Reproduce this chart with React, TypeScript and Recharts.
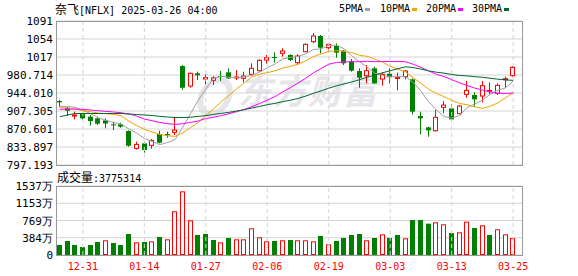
import React from "react";
import {
  ComposedChart,
  Bar,
  Line,
  XAxis,
  YAxis,
  CartesianGrid,
  ReferenceLine,
} from "recharts";

const dates = [
  "12-26", "12-27", "12-30", "12-31", "01-02", "01-03", "01-06", "01-07", "01-08", "01-10",
  "01-13", "01-14", "01-15", "01-16", "01-17", "01-21", "01-22", "01-23", "01-24", "01-27",
  "01-28", "01-29", "01-30", "01-31", "02-03", "02-04", "02-05", "02-06", "02-07", "02-10",
  "02-11", "02-12", "02-13", "02-14", "02-18", "02-19", "02-20", "02-21", "02-24", "02-25",
  "02-26", "02-27", "02-28", "03-03", "03-04", "03-05", "03-06", "03-07", "03-10", "03-11",
  "03-12", "03-13", "03-14", "03-17", "03-18", "03-19", "03-20", "03-21", "03-24", "03-25",
];

const openP = [
  927.6, 914.0, 897.0, 903.2, 895.7, 892.3, 888.2, 880.0, 880.0, 866.4,
  831.1, 841.3, 837.2, 860.3, 860.3, 863.7, 999.0, 958.2, 984.1, 972.5,
  969.8, 978.6, 986.1, 975.2, 973.9, 982.0, 989.5, 1011.3, 1017.4, 1024.9,
  1021.5, 1005.8, 1028.3, 1048.7, 1060.2, 1036.4, 1039.8, 1030.3, 1007.9, 988.8,
  979.3, 994.3, 972.5, 983.4, 974.5, 977.3, 971.8, 897.0, 873.9, 867.1,
  914.7, 912.7, 901.8, 941.2, 939.9, 937.8, 947.4, 943.3, 971.8, 979.3,
];

const highP = [
  929.7, 915.4, 905.9, 903.9, 899.1, 895.7, 892.3, 885.5, 883.4, 867.8,
  844.7, 844.7, 850.1, 867.1, 865.1, 895.7, 1001.1, 985.4, 987.5, 982.0,
  978.6, 988.8, 994.3, 990.9, 987.5, 1004.5, 1012.6, 1021.5, 1026.9, 1035.1,
  1022.8, 1022.8, 1045.3, 1066.4, 1062.3, 1045.3, 1045.3, 1031.7, 1013.3, 994.3,
  1001.1, 997.7, 986.1, 994.3, 985.4, 990.9, 973.9, 905.9, 875.3, 909.3,
  927.6, 920.8, 919.5, 968.4, 945.3, 968.4, 965.7, 963.7, 977.3, 999.0,
];

const lowP = [
  916.1, 897.0, 890.2, 890.2, 877.3, 878.7, 871.9, 868.5, 873.2, 834.5,
  828.4, 822.2, 830.4, 841.3, 852.8, 858.3, 950.7, 954.8, 970.5, 961.6,
  960.3, 968.4, 972.5, 970.5, 965.7, 979.3, 987.5, 1003.8, 1006.5, 1018.1,
  1009.2, 1001.1, 1026.9, 1045.3, 1024.9, 1029.6, 1016.0, 1001.1, 987.5, 954.8,
  963.7, 962.3, 958.9, 963.7, 949.4, 971.8, 900.4, 859.6, 854.9, 865.1,
  902.5, 888.2, 900.4, 934.4, 916.1, 924.9, 941.2, 939.9, 954.8, 977.3,
];

const closeP = [
  924.9, 907.9, 899.1, 892.3, 886.8, 881.4, 881.8, 878.0, 875.3, 836.5,
  839.2, 827.7, 847.4, 842.6, 858.3, 868.5, 954.8, 984.1, 980.0, 975.5,
  975.0, 977.3, 973.9, 976.6, 978.6, 994.3, 1010.6, 1016.0, 1015.5, 1029.6,
  1011.3, 1019.4, 1043.2, 1060.2, 1036.4, 1043.2, 1026.2, 1004.5, 989.5, 975.2,
  989.5, 963.7, 982.0, 976.2, 975.6, 988.8, 905.9, 892.3, 867.8, 894.3,
  919.5, 890.2, 917.4, 949.4, 931.1, 958.9, 949.4, 959.6, 973.2, 996.3,
];

// 成交量, 单位: 万
const volume = [
  223, 312, 223, 178, 223, 290, 327, 267, 223, 468,
  282, 290, 304, 401, 349, 973, 1418, 772, 446, 468,
  334, 282, 379, 349, 349, 594, 394, 304, 312, 327,
  334, 327, 327, 304, 423, 238, 312, 379, 446, 468,
  327, 379, 460, 379, 446, 371, 780, 780, 698, 728,
  683, 490, 505, 743, 601, 661, 446, 572, 460, 377.5314,
];

const ma5 = [
  916.8, 916.8, 914.7, 908.6, 902.2, 893.5, 888.2, 884.0, 880.6, 870.5,
  862.1, 851.3, 845.2, 838.7, 843.0, 848.9, 874.3, 901.7, 929.1, 952.3,
  973.6, 978.1, 976.1, 975.4, 976.3, 980.1, 986.8, 995.2, 1003.1, 1013.3,
  1016.7, 1018.5, 1023.9, 1032.7, 1034.1, 1040.5, 1041.8, 1034.1, 1020.0, 1007.7,
  997.0, 984.5, 980.0, 977.1, 977.3, 977.1, 965.6, 947.6, 926.1, 909.8,
  896.0, 892.8, 897.8, 914.2, 921.5, 929.4, 941.2, 949.7, 954.4, 967.5,
];

const ma10 = [
  914.7, 912.7, 911.3, 907.9, 905.9, 903.2, 901.8, 900.4, 897.7, 886.4,
  877.8, 869.8, 864.6, 859.6, 856.8, 855.5, 862.8, 873.4, 883.9, 897.7,
  911.3, 926.2, 938.9, 952.3, 964.3, 976.9, 982.5, 985.6, 989.2, 994.8,
  998.4, 1002.6, 1009.6, 1017.9, 1023.7, 1028.6, 1030.2, 1029.0, 1026.4, 1020.9,
  1018.7, 1013.2, 1007.0, 998.5, 992.5, 987.1, 975.0, 963.8, 951.6, 943.5,
  936.5, 929.2, 922.7, 920.2, 915.7, 912.7, 917.0, 923.8, 934.3, 944.5,
];

const ma20 = [
  910.6, 911.3, 911.3, 910.6, 909.3, 907.9, 906.5, 905.2, 903.8, 901.1,
  897.0, 890.9, 887.5, 884.1, 881.4, 880.0, 881.4, 884.1, 886.8, 892.0,
  894.5, 898.0, 901.7, 905.9, 910.5, 916.2, 922.6, 929.5, 936.6, 946.2,
  954.8, 964.4, 974.2, 985.1, 994.0, 1002.7, 1006.3, 1007.3, 1007.8, 1007.9,
  1008.6, 1007.9, 1008.3, 1008.2, 1008.1, 1007.8, 1002.6, 996.4, 989.0, 982.2,
  977.6, 971.2, 964.9, 959.3, 954.1, 949.9, 946.0, 943.8, 943.0, 944.0,
];

const ma30 = [
  895.7, 899.2, 902.2, 902.2, 902.2, 902.2, 902.2, 902.2, 902.2, 901.2,
  900.2, 899.2, 898.1, 896.5, 895.1, 894.0, 894.0, 894.5, 896.4, 897.7,
  900.4, 902.5, 904.5, 907.2, 910.0, 913.4, 916.7, 920.2, 922.9, 926.3,
  929.2, 932.9, 937.7, 943.3, 948.3, 953.7, 958.5, 962.7, 966.5, 971.1,
  976.1, 980.7, 985.2, 989.6, 993.5, 997.5, 995.9, 992.8, 989.1, 986.4,
  984.6, 981.7, 979.8, 978.9, 977.3, 976.1, 974.1, 972.2, 970.8, 969.7,
];

const tickDates = ["12-31", "01-14", "01-27", "02-06", "02-19", "03-03", "03-13", "03-25"];
const priceTicks = [797.193, 833.897, 870.601, 907.305, 944.01, 980.714, 1017.418, 1054.123, 1090.827];
const volTicks = [0, 384.25, 768.5, 1152.75, 1537];

const RED = "#ff0000";
const GREEN = "#008000";
const GRID = "#d4d4d4";
const FRAME = "#999999";
const MONO = '"DejaVu Sans Mono", "Liberation Mono", monospace';
const CJK = '"Noto Sans CJK SC", sans-serif';

const rows = dates.map((d, i) => ({
  date: d,
  open: openP[i],
  high: highP[i],
  low: lowP[i],
  close: closeP[i],
  range: [lowP[i], highP[i]],
  vol: volume[i],
  volUp: i === 0 ? closeP[i] >= openP[i] : closeP[i] >= closeP[i - 1],
  ma5: ma5[i],
  ma10: ma10[i],
  ma20: ma20[i],
  ma30: ma30[i],
}));

const Candle = (props: any) => {
  const { x, y, width, height, payload } = props;
  const { open, close, high, low } = payload;
  const top = Math.min(y, y + height);
  const h = Math.abs(height);
  const py = (v: number) => top + ((high - v) / (high - low)) * h;
  const cx = Math.floor(x + width / 2) + 0.5;
  const up = close >= open;
  const bTop = py(Math.max(open, close));
  const bBot = py(Math.min(open, close));
  const bh = Math.max(bBot - bTop, 1);
  if (up) {
    return (
      <g>
        <line x1={cx} x2={cx} y1={top} y2={bTop} stroke={RED} />
        <line x1={cx} x2={cx} y1={bTop + bh} y2={top + h} stroke={RED} />
        <rect x={cx - 2} y={bTop} width={4} height={bh} fill="#fff" stroke={RED} />
      </g>
    );
  }
  return (
    <g>
      <line x1={cx} x2={cx} y1={top} y2={top + h} stroke={GREEN} />
      <rect x={cx - 2.5} y={bTop} width={5} height={bh} fill={GREEN} />
    </g>
  );
};

const VolBar = (props: any) => {
  const { x, y, width, height, payload } = props;
  const top = Math.min(y, y + height);
  const h = Math.abs(height);
  const cx = Math.floor(x + width / 2) + 0.5;
  if (payload.volUp) {
    return <rect x={cx - 2} y={top + 0.5} width={4} height={Math.max(h - 1, 0)} fill="#fff" stroke={RED} />;
  }
  return <rect x={cx - 2.5} y={top} width={5} height={h} fill={GREEN} />;
};

const fmtPrice = (v: number) => (v >= 1000 ? String(Math.round(v)) : v.toFixed(3));
const fmtVol = (v: number) => (v === 0 ? "0" : Math.round(v) + "万");

const PriceTick = ({ x, y, payload }: any) => (
  <text x={x} y={y} dy={4} textAnchor="end" fontSize={11} fontFamily={MONO} fill="#000">
    {fmtPrice(payload.value)}
  </text>
);

const VolTick = ({ x, y, payload }: any) => (
  <text x={x} y={y} dy={4} textAnchor="end" fontSize={11} fontFamily={MONO} fill="#000">
    {fmtVol(payload.value)}
  </text>
);

const DateTick = ({ x, y, payload }: any) => (
  <text x={x} y={y} dy={7} textAnchor="middle" fontSize={10} fontFamily={MONO} fill={RED}>
    {payload.value}
  </text>
);

const legendItems = [
  { name: "5PMA", color: "#a0a0a0", left: 339 },
  { name: "10PMA", color: "#f5a300", left: 380 },
  { name: "20PMA", color: "#ff00ff", left: 426 },
  { name: "30PMA", color: "#006633", left: 472 },
];

const App = () => {
  return (
    <div style={{ position: "absolute", left: 0, top: 0, width: 578, height: 276, background: "#fff" }}>
      {/* watermark */}
      <div
        style={{
          position: "absolute",
          left: 198,
          top: 77,
          width: 22,
          height: 28,
          border: "6px solid #e6e6ea",
          borderRadius: "50%",
          transform: "skewX(-15deg)",
        }}
      />
      <div
        style={{
          position: "absolute",
          left: 238,
          top: 70,
          fontFamily: CJK,
          fontSize: 34,
          fontWeight: 700,
          fontStyle: "italic",
          color: "#e6e6ea",
          lineHeight: "40px",
          letterSpacing: 1,
        }}
      >
        东方财富
      </div>

      <div style={{ position: "absolute", left: 0, top: 0 }}>
        <ComposedChart width={578} height={180} data={rows} margin={{ top: 21, right: 56, bottom: 15, left: 0 }}>
          <CartesianGrid vertical={false} stroke={GRID} />
          {tickDates.map((d) => (
            <ReferenceLine key={d} x={d} stroke={GRID} strokeDasharray="4 3" />
          ))}
          <XAxis dataKey="date" hide padding={{ left: 0, right: 5 }} />
          <YAxis
            domain={[priceTicks[0], priceTicks[priceTicks.length - 1]]}
            ticks={priceTicks}
            interval={0}
            allowDataOverflow
            width={56}
            axisLine={false}
            tickLine={false}
            tickSize={3}
            tickMargin={0}
            tick={<PriceTick />}
          />
          <Bar dataKey="range" shape={(p: any) => <Candle {...p} />} barSize={5} isAnimationActive={false} />
          <Line dataKey="ma5" stroke="#a0a0a0" dot={false} activeDot={false} strokeWidth={1} isAnimationActive={false} />
          <Line dataKey="ma10" stroke="#f5a300" dot={false} activeDot={false} strokeWidth={1} isAnimationActive={false} />
          <Line dataKey="ma20" stroke="#ff00ff" dot={false} activeDot={false} strokeWidth={1} isAnimationActive={false} />
          <Line dataKey="ma30" stroke="#006633" dot={false} activeDot={false} strokeWidth={1} isAnimationActive={false} />
        </ComposedChart>
      </div>
      <div
        style={{
          position: "absolute",
          left: 56,
          top: 21,
          width: 467,
          height: 145,
          boxSizing: "border-box",
          border: `1px solid ${FRAME}`,
          pointerEvents: "none",
        }}
      />

      <div style={{ position: "absolute", left: 0, top: 170 }}>
        <ComposedChart width={578} height={106} data={rows} margin={{ top: 16, right: 56, bottom: 0, left: 0 }}>
          <CartesianGrid vertical={false} stroke={GRID} />
          {tickDates.map((d) => (
            <ReferenceLine key={d} x={d} stroke={GRID} strokeDasharray="4 3" />
          ))}
          <XAxis
            dataKey="date"
            ticks={tickDates}
            interval={0}
            padding={{ left: 0, right: 5 }}
            axisLine={false}
            tickLine={false}
            height={21}
            tick={<DateTick />}
          />
          <YAxis
            domain={[0, 1537]}
            ticks={volTicks}
            interval={0}
            allowDataOverflow
            width={56}
            axisLine={false}
            tickLine={false}
            tickSize={3}
            tickMargin={0}
            tick={<VolTick />}
          />
          <Bar dataKey="vol" shape={(p: any) => <VolBar {...p} />} barSize={5} isAnimationActive={false} />
        </ComposedChart>
      </div>
      <div
        style={{
          position: "absolute",
          left: 56,
          top: 186,
          width: 467,
          height: 70,
          boxSizing: "border-box",
          border: `1px solid ${FRAME}`,
          pointerEvents: "none",
        }}
      />

      {/* title */}
      <div style={{ position: "absolute", left: 55, top: 1, whiteSpace: "nowrap", lineHeight: "16px", color: "#000" }}>
        <span style={{ fontFamily: CJK, fontSize: 12 }}>奈飞</span>
        <span style={{ fontFamily: MONO, fontSize: 10 }}>[NFLX] 2025-03-26 04:00</span>
      </div>

      {/* legend */}
      {legendItems.map((it) => (
        <div
          key={it.name}
          style={{
            position: "absolute",
            left: it.left,
            top: 1,
            lineHeight: "16px",
            whiteSpace: "nowrap",
            fontFamily: MONO,
            fontSize: 10,
            color: "#000",
            display: "flex",
            alignItems: "center",
          }}
        >
          <span>{it.name}</span>
          <span style={{ display: "inline-block", width: 5, height: 3, background: it.color, marginLeft: 2 }} />
        </div>
      ))}

      {/* volume label */}
      <div style={{ position: "absolute", left: 57, top: 169, whiteSpace: "nowrap", lineHeight: "16px", color: "#000" }}>
        <span style={{ fontFamily: CJK, fontSize: 12 }}>成交量</span>
        <span style={{ fontFamily: MONO, fontSize: 10 }}>:3775314</span>
      </div>
    </div>
  );
};

export default App;
